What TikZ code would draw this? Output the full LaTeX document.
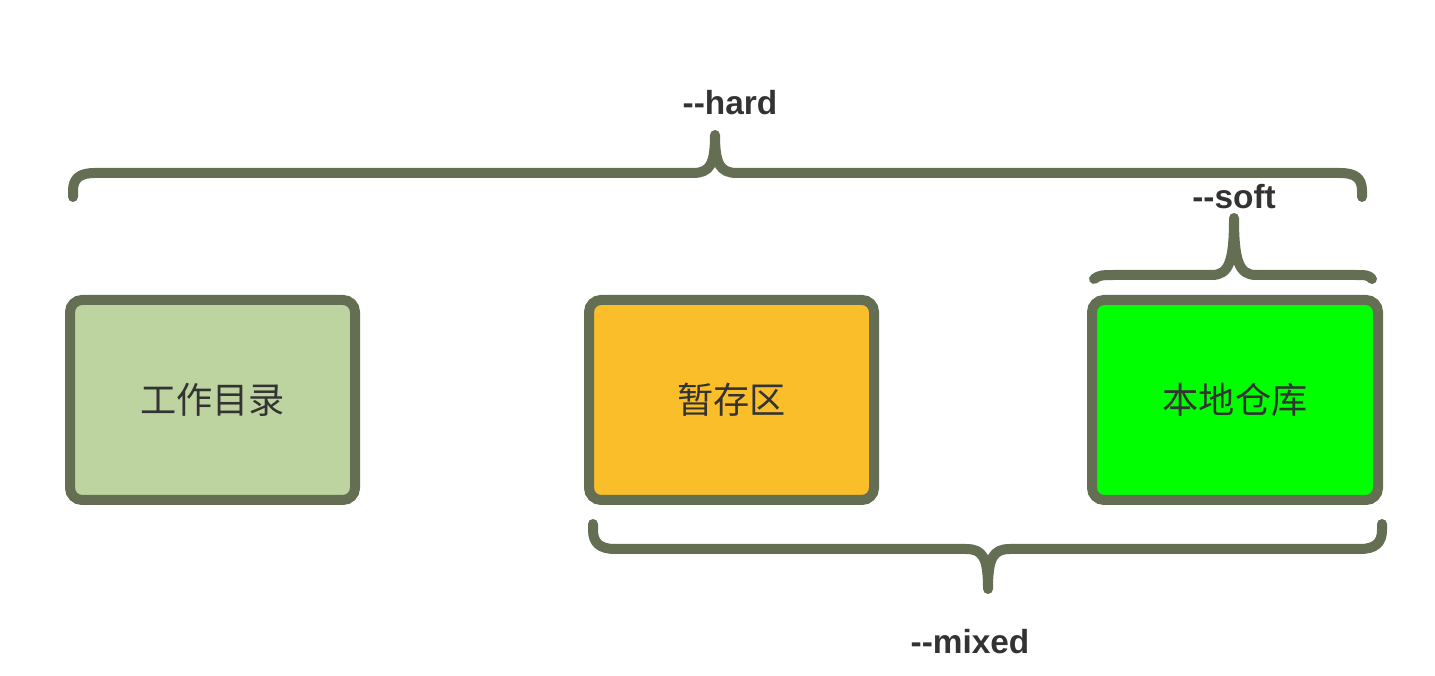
\documentclass[tikz,border=0pt]{standalone}
\usepackage{fontspec}
\setmainfont{Liberation Sans}
\newfontfamily\cjk{Noto Sans CJK SC}
\usepackage{tikz}
\usepackage{xcolor}
\usetikzlibrary{positioning}

\definecolor{rim}{RGB}{99,110,83}
\definecolor{workfill}{RGB}{190,212,160}
\definecolor{stagefill}{RGB}{249,190,42}
\definecolor{repofill}{RGB}{0,255,0}
\definecolor{ink}{RGB}{51,51,51}

\tikzset{
    area/.style={rectangle, draw=rim, line width=0.1cm, rounded corners=0.12cm, minimum width=2.85cm, minimum height=2cm, inner sep=0pt, text=ink, font=\cjk\fontsize{10.3pt}{12pt}\selectfont},
    bracket/.style={draw=rim, line width=0.1cm, line cap=round, line join=round},
    opt/.style={text=ink, inner sep=0pt, font=\bfseries\fontsize{9.5pt}{11pt}\selectfont}
}

\begin{document}
\begin{tikzpicture}
            \useasboundingbox (0, 0) rectangle (14.35, 6.76);

            \node[area, fill=workfill] (work) at (2.125, 2.76) {\raisebox{-0.08cm}{工作目录}};
            \node[area, fill=stagefill] (stage) at (7.315, 2.76) {\raisebox{-0.08cm}{暂存区}};
            \node[area, fill=repofill, minimum width=2.86cm] (repo) at (12.35, 2.76) {\raisebox{-0.08cm}{本地仓库}};

            \node[opt] (hard) at (7.30, 5.73) {-\kern0pt-hard};
            \node[opt] (soft) at (12.34, 4.79) {-\kern0pt-soft};
            \node[opt] (mixed) at (9.70, 0.34) {-\kern0pt-mixed};

            \draw[bracket] (0.73, 4.79) -- (0.73, 4.85) .. controls (0.73, 4.98) and (0.8, 5.03) .. (0.95, 5.03) -- (6.93, 5.03) .. controls (7.1, 5.03) and (7.15, 5.12) .. (7.15, 5.41) .. controls (7.15, 5.12) and (7.2, 5.03) .. (7.37, 5.03) -- (13.4, 5.03) .. controls (13.55, 5.03) and (13.62, 4.98) .. (13.62, 4.85) -- (13.62, 4.79);
            \draw[bracket] (10.94, 3.97) .. controls (11.0, 4.01) .. (11.2, 4.01) -- (12.12, 4.01) .. controls (12.29, 4.01) and (12.34, 4.15) .. (12.34, 4.58) .. controls (12.34, 4.15) and (12.39, 4.01) .. (12.56, 4.01) -- (13.5, 4.01) .. controls (13.68, 4.01) .. (13.72, 3.97);
            \draw[bracket] (5.93, 1.52) -- (5.93, 1.46) .. controls (5.93, 1.33) and (6.0, 1.27) .. (6.15, 1.27) -- (9.66, 1.27) .. controls (9.83, 1.27) and (9.88, 1.18) .. (9.88, 0.87) .. controls (9.88, 1.18) and (9.93, 1.27) .. (10.1, 1.27) -- (13.6, 1.27) .. controls (13.75, 1.27) and (13.82, 1.33) .. (13.82, 1.46) -- (13.82, 1.52);
        \end{tikzpicture}
\end{document}
